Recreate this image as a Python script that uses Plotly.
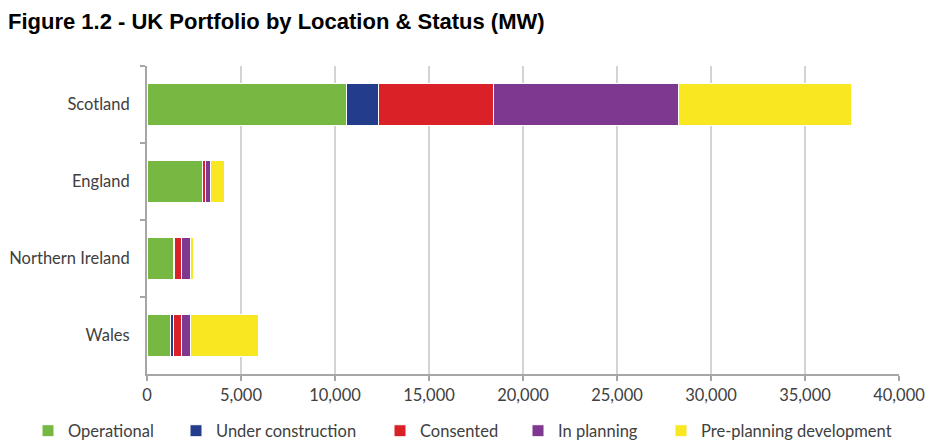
import plotly.graph_objects as go

regions = ["Scotland", "England", "Northern Ireland", "Wales"]
operational = [10620, 2930, 1420, 1250]
under_construction = [1700, 40, 60, 150]
consented = [6130, 120, 330, 450]
in_planning = [9810, 300, 520, 450]
pre_planning = [9220, 720, 120, 3650]

series = [
    ("Operational", operational, "#77B843"),
    ("Under construction", under_construction, "#233C8B"),
    ("Consented", consented, "#DA2128"),
    ("In planning", in_planning, "#7F3890"),
    ("Pre-planning development", pre_planning, "#F9E721"),
]
legend_x_px = [28, 176, 380, 518, 661]

W, H = 931, 446
fig = go.Figure()
for i, (name, vals, col) in enumerate(series):
    lg = "legend" if i == 0 else f"legend{i+1}"
    fig.add_trace(go.Bar(
        y=regions, x=vals, name=name, orientation="h",
        marker=dict(color=col, line=dict(color="white", width=1)),
        legend=lg,
    ))

label_font = dict(family="Lato", size=16.5, color="#404040")
layout_legends = {}
for i, px in enumerate(legend_x_px):
    key = "legend" if i == 0 else f"legend{i+1}"
    layout_legends[key] = dict(
        x=px / W, xref="container", xanchor="left",
        y=(H - 431) / H, yref="container", yanchor="middle",
        orientation="h", font=label_font, bgcolor="rgba(0,0,0,0)",
        borderwidth=0, itemclick=False,
    )

fig.update_layout(
    width=W, height=H,
    barmode="stack", bargap=0.45,
    plot_bgcolor="white", paper_bgcolor="white",
    margin=dict(l=147, r=32, t=66, b=72, autoexpand=False),
    title=dict(text="<b>Figure 1.2 - UK Portfolio by Location & Status (MW)</b>",
               x=8 / W, xref="container", xanchor="left",
               y=1 - 21 / H, yref="container", yanchor="middle",
               pad=dict(l=0, r=0, t=0, b=0),
               font=dict(family="Liberation Sans", size=22, color="black")),
    xaxis=dict(range=[0, 40000], dtick=5000, tickformat=",",
               showgrid=True, gridcolor="#D4D4D4", gridwidth=1.5,
               showline=True, linecolor="#A6A6A6", linewidth=2,
               ticks="outside", ticklen=5, tickcolor="#A6A6A6", tickwidth=1.5,
               tickfont=label_font, zeroline=False, fixedrange=True,
               automargin=False),
    yaxis=dict(categoryorder="array", categoryarray=regions, autorange="reversed",
               showline=True, linecolor="#A6A6A6", linewidth=2,
               ticks="outside", ticklen=5, tickcolor="#A6A6A6", tickwidth=1.5,
               tickson="boundaries", tickfont=label_font, ticklabelstandoff=12,
               showgrid=False, fixedrange=True, automargin=False),
    showlegend=True,
    **layout_legends,
)

fig.write_html(
    "out.html",
    config={"displayModeBar": False},
    post_script="document.body.style.margin='0';document.body.style.overflow='hidden';",
)
